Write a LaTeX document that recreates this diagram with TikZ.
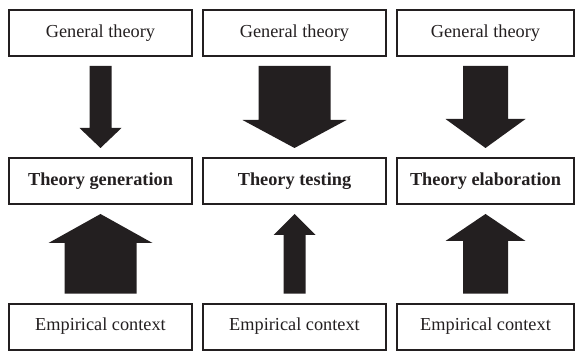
\documentclass[tikz,border=0pt]{standalone}
\usepackage{fontspec}
\setmainfont{Liberation Serif}
\usetikzlibrary{calc}
\definecolor{ink}{RGB}{35,31,32}
\tikzstyle{framework}=[
    x=1pt, y=1pt,
    box/.style={draw=ink, line width=2pt, minimum height=46pt, inner sep=0pt,
        text=ink, font={\fontsize{18.3}{22}\selectfont}},
    mode box/.style={box, font={\fontsize{18.3}{22}\selectfont\bfseries}},
    fat arrow/.style={fill=ink},
]
\newcommand{\fatarrow}[5]{
    % #1 from, #2 to, #3 shaft width, #4 head width, #5 head length
    \fill[fat arrow] let \p1=(#1), \p2=(#2), \n1={sign(\y2-\y1)},
        \n2={\y1+\n1*9}, \n3={\y2-\n1*9}, \n4={\n3-\n1*#5} in
        (\x1-#3/2,\n2) -- (\x1-#3/2,\n4) -- (\x1-#4/2,\n4) -- (\x1,\n3)
        -- (\x1+#4/2,\n4) -- (\x1+#3/2,\n4) -- (\x1+#3/2,\n2) -- cycle;
}

\begin{document}
\begin{tikzpicture}[framework]
    \useasboundingbox (0,0) rectangle (577,-352);

    \foreach \c/\x/\w/\mode in {1/100.5/183/{Theory generation},
        2/294.5/183/{Theory testing}, 3/485.5/177/{Theory elaboration}}{
        \node[box, minimum width=\w pt] (general\c) at (\x,-33) {General theory};
        \node[mode box, minimum width=\w pt] (mode\c) at (\x,-181) {\mode};
        \node[box, minimum width=\w pt] (context\c) at (\x,-326.5) {Empirical context};
    }

    \fatarrow{general1.south}{mode1.north}{22}{42}{20}
    \fatarrow{general2.south}{mode2.north}{72}{104}{28}
    \fatarrow{general3.south}{mode3.north}{45}{80}{29}

    \fatarrow{context1.north}{mode1.south}{72}{104}{29}
    \fatarrow{context2.north}{mode2.south}{22}{42}{21}
    \fatarrow{context3.north}{mode3.south}{45}{80}{27}

\end{tikzpicture}
\end{document}
